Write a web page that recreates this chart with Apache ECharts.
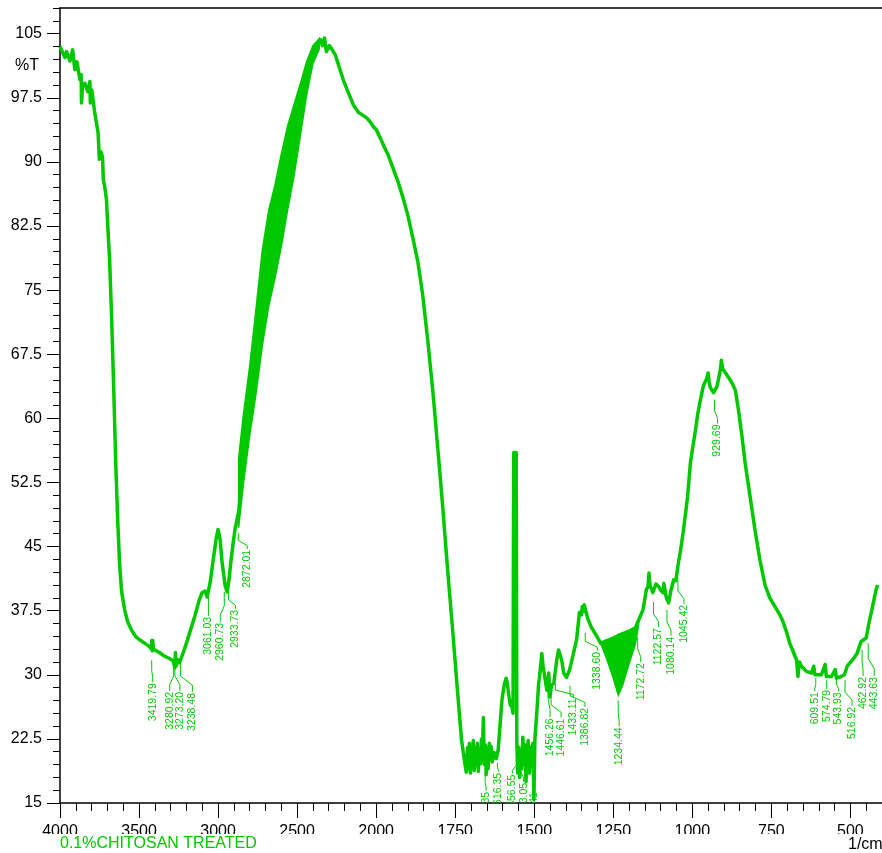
<!DOCTYPE html>
<html><head><meta charset="utf-8">
<script src="https://cdn.jsdelivr.net/npm/echarts@6/dist/echarts.min.js"></script>
<style>html,body{margin:0;padding:0;background:#fff}#c{width:882px;height:853px}</style>
</head><body><div id="c"></div>
<script>
// ---- data (wavenumber 1/cm, %T) ----
const wavenumbers = [
4000,3969,3958,3937,3920,3906,3893,3874,3866,3864,3858,3843,3824,3811,3808,3799,3780,3759,3751,3742,3731,3726,3717,3706,3698,3686,3673,3660,3648,3635,3623,3610,3591,3572,3547,3522,3497,3465,3434,3421,3419,3416,3413,3410,3403,3371,3340,3308,3283,3274,3270,3266,3258,3245,3220,3195,3170,3145,3120,3101,3082,3069,3050,3031,3013,3000,2987,2975,2956,2943,2931,2918,2906,2893,2881,2868,
2840,2800,2760,2720,2680,2640,2600,2560,2520,2480,2440,2400,2365,2352,2340,2327,2315,2296,2277,2258,2239,2208,2176,2145,2113,2088,2063,2038,2013,2000,
1987,1975,1962,1947,1931,1915,1900,1884,1868,1853,1837,1821,1806,1790,1774,1758,1743,1730,1721,1715,1711,1708,1705,1702,1699,1696,1693,1690,1686,1683,1680,1677,1674,1670,1667,1664,1661,1658,1655,1652,1649,1646,1642,1639,1636,1633,1627,1620,1614,1608,1602,1595,1589,1586,1580,1576,1570,1567,1565,1557,1555,1552,1549,1546,1543,1540,1536,1533,1530,1526,1523,1519,1515,1511,1508,1504,1501,1498,1492,1486,1482,1476,1472,1467,1460,1454,1451,1445,1438,1429,1423,1413,1407,1398,1388,1376,1366,1357,1351,1348,1345,1342,1335,1330,1320,1304,1290,1270,1250,1234,1220,1200,1180,1172,1156,1145,1140,1137,1134,1125,1115,1106,1100,1093,1090,1082,1075,1068,1059,1052,1046,1037,1028,1015,1006,999,990,983,974,965,954,950,947,943,933,922,911,908,904,891,875,864,854,843,833,817,802,786,770,755,739,723,714,701,692,683,670,666,661,655,639,623,616,612,607,592,580,576,560,548,544,529,519,510,494,479,466,450,441,432,419,414];
const transmittance = [
103.5,102.2,102.9,101.8,103.1,100.8,101.7,99.6,100.2,96.9,98.8,99.2,98.2,99.4,96.9,98.4,95.7,93.4,90.3,91.2,90.6,87.9,87.1,85.6,82.6,78.5,71.5,63.3,55.1,48.1,42.9,39.7,37.6,36.2,35.2,34.5,34.1,33.7,33.3,33.0,34.0,32.8,34.0,33.0,33.2,32.6,32.2,31.9,31.6,30.8,32.6,31.0,31.8,31.4,32.6,34.0,35.5,37.0,38.7,39.6,39.8,39.1,40.8,43.4,45.8,47.0,45.8,43.2,40.5,39.7,41.1,43.4,45.2,47.0,47.2,49.3,
56.3,62.0,67.8,74.0,78.7,81.8,85.5,89.3,92.5,96.0,99.7,102.5,103.8,104.3,103.6,104.5,102.9,103.6,103.1,102.5,101.4,99.6,98.1,96.7,95.8,95.5,95.2,94.7,94.0,93.8,
92.8,91.8,90.8,89.3,87.7,85.8,83.8,81.1,78.3,74.5,69.2,63.3,56.9,49.9,42.3,35.2,28.2,22.4,20.0,18.6,21.5,19.0,22.0,18.5,21.0,19.2,22.3,18.8,21.5,19.5,22.0,18.7,21.2,19.6,22.5,20.0,25.0,19.5,21.8,18.3,21.5,19.0,22.0,20.2,21.6,19.8,20.9,20.2,21.2,24.1,27.1,28.8,29.6,29.2,27.5,26.5,26.2,25.5,56.0,56.0,22.0,18.5,21.5,18.0,21.0,19.0,22.7,19.5,21.8,17.5,20.8,22.3,18.5,21.5,20.0,22.0,15.4,22.4,25.5,29.0,30.2,32.5,31.0,30.9,28.2,30.2,27.4,28.8,29.0,31.7,32.9,31.7,30.2,29.7,30.6,32.5,34.1,37.3,37.0,38.0,37.4,38.2,37.2,36.5,35.6,34.6,33.7,34.0,34.3,34.6,34.8,35.1,35.5,36.2,37.6,40.0,40.3,41.9,40.5,39.6,40.6,40.3,39.9,39.6,40.7,39.0,38.4,39.8,41.1,41.0,42.6,44.6,46.9,50.8,54.8,56.5,58.6,60.5,62.2,63.8,64.7,65.3,64.3,63.6,63.0,63.7,65.7,66.8,65.8,65.1,64.2,63.3,61.0,57.9,54.8,50.8,47.0,43.4,40.5,39.0,38.0,37.0,36.3,34.9,33.7,32.9,31.7,29.8,31.5,31.0,30.4,30.2,31.0,30.0,30.0,30.0,31.2,29.8,29.8,30.6,29.6,29.8,30.0,31.0,31.7,32.5,33.9,34.3,36.1,37.6,39.9,40.5];

// dense-noise envelopes (drawn as filled bands)
const band1Wn = [2870,2840,2800,2760,2720,2680,2640,2600,2560,2520,2480,2440,2400,2360];
const band1Hi = [55.3,60.4,66.1,72.8,79.7,84.3,87.3,90.9,94.2,96.7,99.1,101.7,103.6,104.4];
const band1Lo = [47.2,52.3,58.0,62.9,68.5,73.1,76.4,80.1,84.4,88.3,93.0,97.8,101.5,103.2];
const band2Wn = [1290,1270,1250,1234,1220,1200,1180,1170];
const band2Hi = [33.7,34.0,34.3,34.6,34.8,35.1,35.5,36.2];
const band2Lo = [33.7,31.8,29.6,27.6,28.8,31.3,33.6,35.8];

// peak annotations
const peakText = ['3419.79','3280.92','3273.20','3238.48','3061.03','2960.73','2933.73','2872.01','1655.35','1616.35','1556.55','1543.05','1502.41','1456.26','1446.61','1433.11','1386.82','1338.60','1234.44','1172.72','1122.57','1080.14','1045.42','929.69','609.51','574.79','543.93','516.92','462.92','443.63'];
const peakWn = peakText.map(Number);
const peakLeaderT = [31.7,31.4,31.4,31.5,39.0,39.7,39.7,46.6,18.3,19.7,20.3,19.7,18.5,29.0,27.8,29.0,28.7,34.9,27.0,34.4,38.5,37.6,41.1,62.2,29.6,29.4,29.7,29.4,32.9,33.7];
// label layout offsets in px (text centre x offset, text top y offset) from leader start
const labelDx = [1,-4,5,12,0,-4,7,9,1,1,-4,3,1,2,10,18,15,12,1,3,5,4,6,3,-1,0,2,7,1,6];
const labelDy = [23,29,29,31,19,31,18,17,17,10,17,20,19,35,25,15,22,19,27,26,26,27,25,25,14,10,15,27,27,34];

const xTickLabels = ['4000','3500','3000','2500','2000','1750','1500','1250','1000','750','500'];
const yTickLabels = ['15','22.5','30','37.5','45','52.5','60','67.5','75','82.5','90','97.5','105'];

// ---- axis transform: 4000-2000 at half the scale of 2000-400 ----
function pos(w){ return w >= 2000 ? 4000 - w : 2000 + 2 * (2000 - w); }
function inv(p){ return p <= 2000 ? 4000 - p : 2000 - (p - 2000) / 2; }

const GREEN = '#00c800';
const FONT = '"Liberation Sans", Arial, sans-serif';
const chart = echarts.init(document.getElementById('c'));

const lineData = wavenumbers.map((w, i) => [pos(w), transmittance[i]]);
const bands = [[band1Wn, band1Hi, band1Lo], [band2Wn, band2Hi, band2Lo]];

chart.setOption({
  animation: false,
  backgroundColor: '#fff',
  grid: { left: 60, right: -7.6, top: 8, bottom: 50 },
  xAxis: [{
    type: 'value', min: 0, max: 5200, interval: 500,
    axisLine: { show: true, onZero: false, lineStyle: { color: '#000', width: 1.5 } },
    axisTick: { show: true, length: 15, lineStyle: { color: '#000', width: 1 } },
    minorTick: { show: true, splitNumber: 5, length: 8, lineStyle: { color: '#000', width: 1 } },
    splitLine: { show: false },
    axisLabel: {
      show: true, margin: 21, color: '#000', fontSize: 16, fontFamily: FONT, showMaxLabel: false,
      formatter: function (v) {
        const s = String(Math.round(inv(v)));
        return xTickLabels.indexOf(s) >= 0 ? s : '';
      }
    }
  }, {
    type: 'value', min: 0, max: 5200, position: 'top',
    axisLine: { show: true, onZero: false, lineStyle: { color: '#000', width: 1.5 } },
    axisTick: { show: false }, axisLabel: { show: false }, splitLine: { show: false }
  }],
  yAxis: [{
    type: 'value', min: 15, max: 108, interval: 7.5,
    axisLine: { show: true, onZero: false, lineStyle: { color: '#000', width: 1.5 } },
    axisTick: { show: true, length: 13, lineStyle: { color: '#000', width: 1 } },
    splitLine: { show: false },
    axisLabel: {
      margin: 18, color: '#000', fontSize: 16, fontFamily: FONT, showMaxLabel: false,
      formatter: function (v) {
        const s = String(Math.round(v * 10) / 10);
        return yTickLabels.indexOf(s) >= 0 ? s : '';
      }
    }
  }, {
    type: 'value', min: 15, max: 108, interval: 1.5, position: 'left',
    axisLine: { show: false }, axisLabel: { show: false }, splitLine: { show: false },
    axisTick: { show: true, length: 7, lineStyle: { color: '#000', width: 1 } }
  }],
  graphic: [
    { type: 'text', x: 15, y: 58, z: 110, style: { text: '%T', font: '16px ' + FONT, fill: '#000' } },
    { type: 'rect', x: 0, y: 834, z: 100, shape: { width: 882, height: 19 }, style: { fill: '#fff' } },
    { type: 'text', x: 60, y: 836, z: 110, style: { text: '0.1%CHITOSAN TREATED', font: '16px ' + FONT, fill: GREEN } },
    { type: 'text', x: 848, y: 837, z: 110, style: { text: '1/cm', font: '16px ' + FONT, fill: '#000' } }
  ],
  series: [{
    type: 'custom', clip: true, silent: true,
    data: [[0, 15], [1, 15]],
    renderItem: function (params, api) {
      const b = bands[params.dataIndex];
      const pts = [];
      for (let i = 0; i < b[0].length; i++) pts.push(api.coord([pos(b[0][i]), b[1][i]]));
      for (let i = b[0].length - 1; i >= 0; i--) pts.push(api.coord([pos(b[0][i]), b[2][i]]));
      return { type: 'polygon', shape: { points: pts }, style: { fill: GREEN, stroke: GREEN, lineWidth: 1.5 } };
    }
  }, {
    type: 'line', data: lineData, showSymbol: false, symbol: 'none', silent: true, clip: true,
    lineStyle: { color: GREEN, width: 3.5, join: 'round' }, z: 3
  }, {
    type: 'custom', clip: true, silent: true, z: 4,
    data: peakWn.map((w, i) => [pos(w), peakLeaderT[i], i]),
    renderItem: function (params, api) {
      const i = api.value(2);
      const a = api.coord([api.value(0), api.value(1)]);
      const dx = labelDx[i], dy = labelDy[i];
      const pts = [[a[0], a[1]], [a[0], a[1] + dy * 0.45], [a[0] + dx, a[1] + dy * 0.75], [a[0] + dx, a[1] + dy - 1]];
      return {
        type: 'group',
        children: [
          { type: 'polyline', shape: { points: pts }, style: { stroke: GREEN, lineWidth: 1, fill: null } },
          { type: 'text', x: a[0] + dx, y: a[1] + dy, rotation: Math.PI / 2,
            style: { text: peakText[i], x: 0, y: 0, align: 'right', verticalAlign: 'middle', font: '10.5px ' + FONT, fill: GREEN } }
        ]
      };
    }
  }]
});
</script></body></html>
